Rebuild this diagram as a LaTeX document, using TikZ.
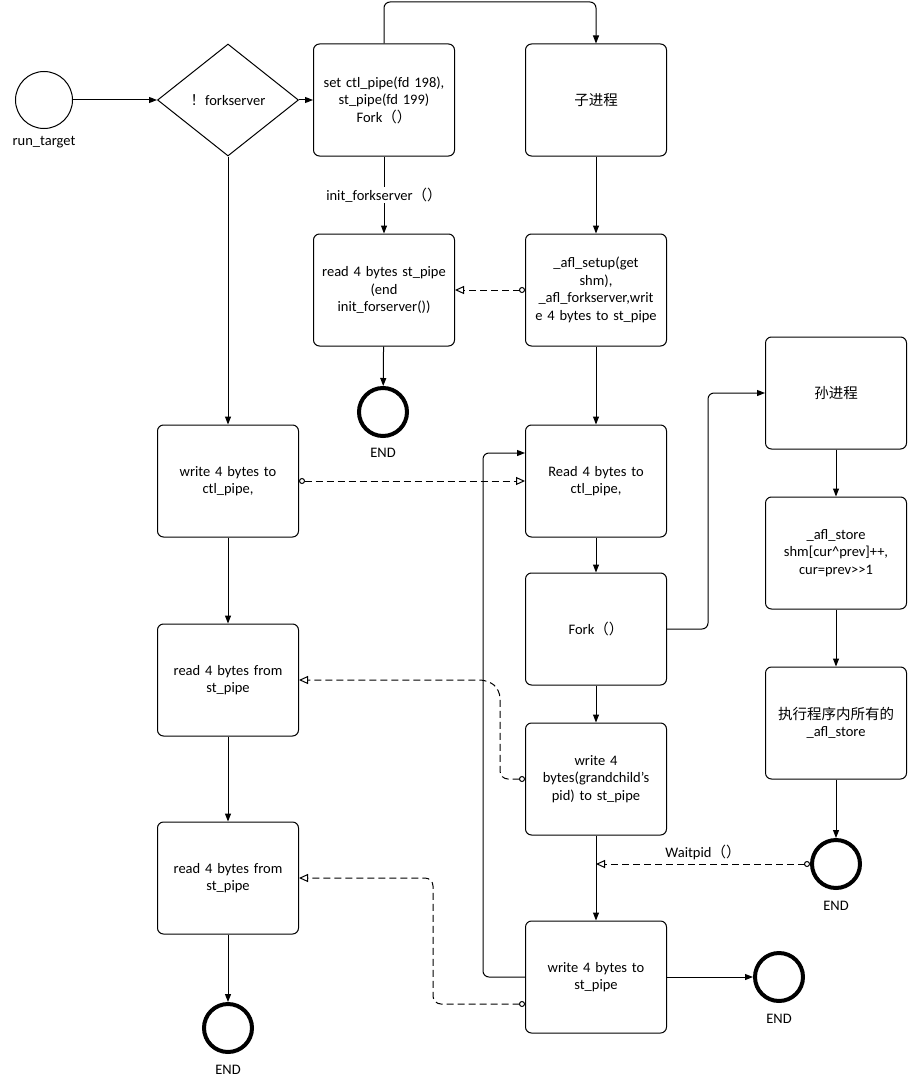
\documentclass[tikz,border=0pt]{standalone}
\usepackage{fontspec}
\setmainfont{Carlito}
\newfontfamily\cjk{Noto Sans CJK SC}
\usetikzlibrary{arrows.meta,shapes.geometric}
\begin{document}
\begin{tikzpicture}[x=1pt,y=-1pt,line width=1pt,
 font=\fontsize{14.5}{17.5}\selectfont,
 box/.style={draw,rounded corners=6pt,minimum width=141pt,minimum height=112pt,align=center,text width=130pt,inner sep=2pt},
 endc/.style={circle,draw,line width=4pt,minimum size=48pt,inner sep=0pt},
 arr/.style={-{Triangle[length=8pt,width=6pt]}},
 darr/.style={dashed,dash pattern=on 7pt off 4pt,{Circle[open,length=6pt]}-{Triangle[open,length=9pt,width=8pt]}},
 lbl/.style={fill=white,inner sep=1pt}]
\useasboundingbox (0,0) rectangle (909,1089);
\node[circle,draw,minimum size=57pt,inner sep=0pt] (rt) at (44,100) {};
\node at (44,142) {run\_target};
\node[diamond,draw,minimum width=141pt,minimum height=112pt,inner sep=0pt] (dia) at (228,100) {{\cjk ！}forkserver};
\node[box] (A) at (384,100) {set ctl\_pipe(fd 198),\\ st\_pipe(fd 199)\\ Fork{\cjk （）}};
\node[box] (B) at (596,100) {\cjk 子进程};
\node[box] (C) at (384,290) {read 4 bytes st\_pipe\\ (end\\ init\_forserver())};
\node[box] (D) at (596,290) {\_afl\_setup(get\\ shm),\\ \_afl\_forkserver,writ\\ e 4 bytes to st\_pipe};
\node[endc] (e1) at (383,412) {};
\node at (383,453) {END};
\node[box] (E) at (228,481) {write 4 bytes to\\ ctl\_pipe,};
\node[box] (F) at (596,481) {Read 4 bytes to\\ ctl\_pipe,};
\node[box] (G) at (836,393) {\cjk 孙进程};
\node[box] (H) at (836,553) {\_afl\_store\\ shm[cur\textasciicircum prev]++,\\ cur=prev>{}>1};
\node[box] (I) at (596,629) {Fork{\cjk （）}};
\node[box] (J) at (228,680) {read 4 bytes from\\ st\_pipe};
\node[box] (K) at (836,723) {{\cjk 执行程序内所有的}\\ \_afl\_store};
\node[box] (L) at (596,779) {write 4\\ bytes(grandchild's\\ pid) to st\_pipe};
\node[box] (M) at (228,878) {read 4 bytes from\\ st\_pipe};
\node[endc] (e2) at (836,864) {};
\node at (836,906) {END};
\node[box] (N) at (596,977) {write 4 bytes to\\ st\_pipe};
\node[endc] (e3) at (779,977) {};
\node at (779,1019) {END};
\node[endc] (e4) at (228,1028) {};
\node at (228,1070) {END};
\coordinate (w) at (596,864);
% solid
\draw[arr] (rt) -- (dia);
\draw[arr] (dia) -- (A);
\draw[arr,rounded corners=6pt] (A.north) -- (384,2) -- (596,2) -- (B.north);
\draw[arr] (A) -- node[lbl]{init\_forkserver{\cjk （）}} (C);
\draw[arr] (C) -- (e1);
\draw[arr] (B) -- (D);
\draw[arr] (D) -- (F);
\draw[arr] (dia) -- (E);
\draw[arr] (E) -- (J);
\draw[arr] (J) -- (M);
\draw[arr] (M) -- (e4);
\draw[arr] (F) -- (I);
\draw[arr,rounded corners=6pt] (I.east) -- (708,629) -- (708,393) -- (G.west);
\draw[arr] (G) -- (H);
\draw[arr] (H) -- (K);
\draw[arr] (K) -- (e2);
\draw[arr] (I) -- (L);
\draw[arr] (L) -- (N);
\draw[arr] (N) -- (e3);
\draw[arr,rounded corners=6pt] (N.west) -- (483,977) -- (483,453) -- (F.west|-483,453);
% dashed
\draw[darr] (D.west) -- (C.east);
\draw[darr] (E.east) -- (F.west);
\draw[darr] (e2.west) -- node[above,pos=0.5]{Waitpid{\cjk （）}} (w);
\draw[darr,rounded corners=8pt] (525,779) -- (500,779) -- (500,690) -- (488,680) -- (J.east);
\draw[darr,rounded corners=8pt] (525,1004) -- (433,1004) -- (433,878) -- (M.east);
\end{tikzpicture}
\end{document}
